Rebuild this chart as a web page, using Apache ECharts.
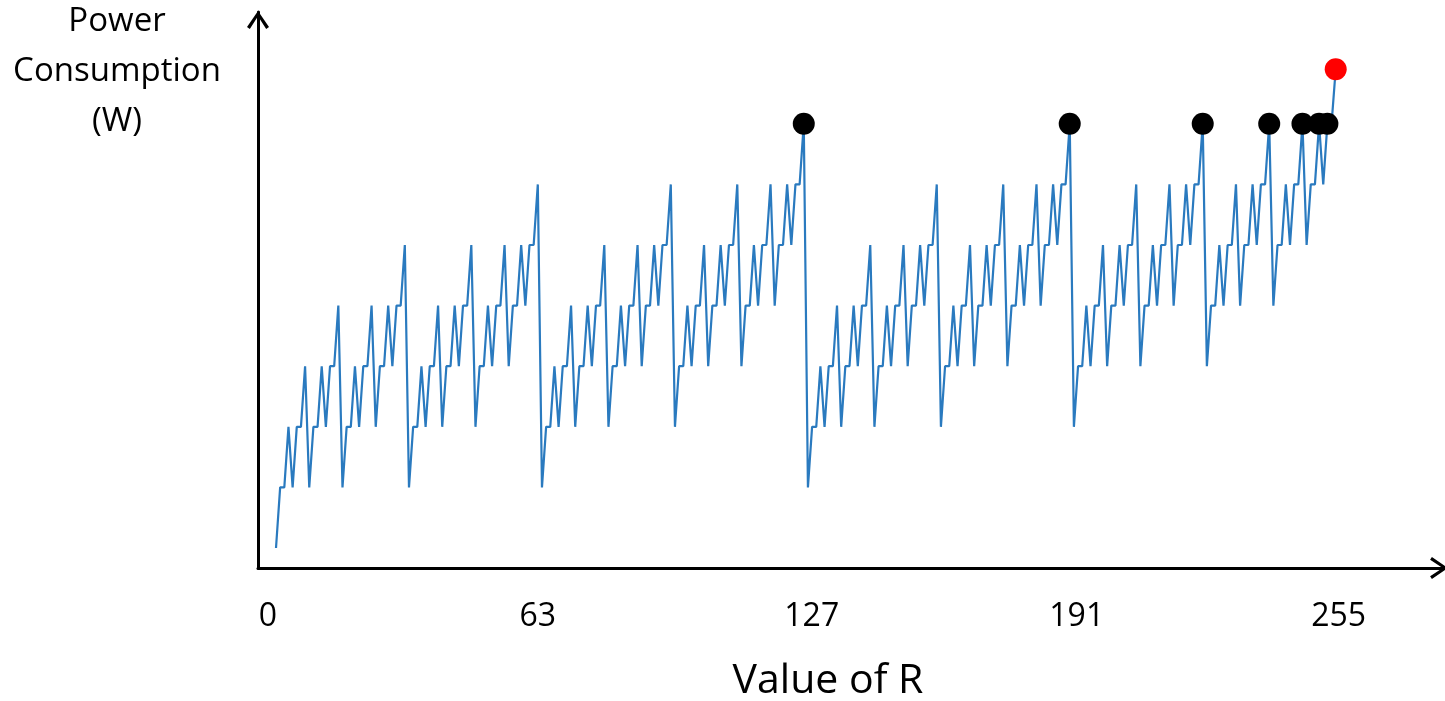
<!DOCTYPE html>
<html>
<head>
<meta charset="utf-8">
<title>Power Consumption vs Value of R</title>
<script src="https://cdn.jsdelivr.net/npm/echarts@6/dist/echarts.min.js"></script>
<style>
  html, body { margin: 0; padding: 0; background: #ffffff; }
  #chart { width: 1445px; height: 701px; }
</style>
</head>
<body>
<div id="chart"></div>
<script>
// Power level for each value of R (0..255), in relative steps
const power = [
  0,1,1,2,1,2,2,3,1,2,2,3,2,3,3,4,
  1,2,2,3,2,3,3,4,2,3,3,4,3,4,4,5,
  1,2,2,3,2,3,3,4,2,3,3,4,3,4,4,5,
  2,3,3,4,3,4,4,5,3,4,4,5,4,5,5,6,
  1,2,2,3,2,3,3,4,2,3,3,4,3,4,4,5,
  2,3,3,4,3,4,4,5,3,4,4,5,4,5,5,6,
  2,3,3,4,3,4,4,5,3,4,4,5,4,5,5,6,
  3,4,4,5,4,5,5,6,4,5,5,6,5,6,6,7,
  1,2,2,3,2,3,3,4,2,3,3,4,3,4,4,5,
  2,3,3,4,3,4,4,5,3,4,4,5,4,5,5,6,
  2,3,3,4,3,4,4,5,3,4,4,5,4,5,5,6,
  3,4,4,5,4,5,5,6,4,5,5,6,5,6,6,7,
  2,3,3,4,3,4,4,5,3,4,4,5,4,5,5,6,
  3,4,4,5,4,5,5,6,4,5,5,6,5,6,6,7,
  3,4,4,5,4,5,5,6,4,5,5,6,5,6,6,7,
  4,5,5,6,5,6,6,7,5,6,6,7,6,7,7,7.9
];

// Values of R marked as local peaks, and the overall maximum
const peakR = [127, 191, 223, 239, 247, 251, 253];
const maxR = [255];

// Tick labels on the R axis
const tickValues = [0, 63, 127, 191, 255];
const tickLabels = ['0', '63', '127', '191', '255'];

const lineData = power.map((v, r) => [r, v]);
const peakData = peakR.map(r => [r, power[r]]);
const maxData = maxR.map(r => [r, power[r]]);

// small horizontal nudges for the tick text (rich style keys)
const nudge = { 0: 'l8', 127: 'r8', 191: 'r7', 255: 'r3' };

const FONT = '"Open Sans", "Liberation Sans", sans-serif';
const TICK_SIZE = 32;
const chevron = 'path://M11,0 L22,16 L19.2,17.8 L11,5.2 L2.8,17.8 L0,16 Z';

function tickRich(padLeft, padRight) {
  return { fontFamily: FONT, fontSize: TICK_SIZE, color: '#000', padding: [0, padRight, 0, padLeft] };
}

const chart = echarts.init(document.getElementById('chart'), null, { renderer: 'canvas' });

chart.setOption({
  animation: false,
  backgroundColor: '#ffffff',
  grid: { left: 258, top: 12, right: 0, bottom: 133, containLabel: false },
  xAxis: {
    type: 'value',
    min: -4.33,
    max: 281.3,
    splitLine: { show: false },
    axisTick: { show: false },
    axisLine: {
      show: true,
      onZero: false,
      symbol: ['none', chevron],
      symbolSize: [22, 18],
      symbolOffset: [0, -6],
      lineStyle: { color: '#000000', width: 3 }
    },
    axisLabel: {
      show: true,
      customValues: tickValues,
      margin: 33,
      fontFamily: FONT,
      fontSize: TICK_SIZE,
      color: '#000000',
      formatter: function (v) {
        const i = tickValues.indexOf(v);
        const txt = i >= 0 ? tickLabels[i] : '';
        const k = nudge[v];
        return k ? '{' + k + '|' + txt + '}' : txt;
      },
      rich: {
        l8: tickRich(0, 16),
        r8: tickRich(16, 0),
        r7: tickRich(14, 0),
        r3: tickRich(6, 0)
      }
    }
  },
  yAxis: {
    type: 'value',
    min: -0.33,
    max: 8.845,
    splitLine: { show: false },
    axisTick: { show: false },
    axisLabel: { show: false },
    axisLine: {
      show: true,
      onZero: false,
      symbol: ['none', chevron],
      symbolSize: [22, 18],
      symbolOffset: [0, -8],
      lineStyle: { color: '#000000', width: 3 }
    }
  },
  graphic: [
    {
      type: 'text',
      x: 828,
      y: 681,
      style: {
        text: 'Value of R',
        fontFamily: FONT,
        fontSize: 41,
        fill: '#000000',
        align: 'center',
        verticalAlign: 'middle'
      }
    },
    {
      type: 'text',
      x: 117,
      y: 72,
      style: {
        text: 'Power\nConsumption\n(W)',
        fontFamily: FONT,
        fontSize: 33,
        lineHeight: 50,
        fill: '#000000',
        align: 'center',
        verticalAlign: 'middle'
      }
    }
  ],
  series: [
    {
      type: 'line',
      data: lineData,
      showSymbol: false,
      symbol: 'none',
      lineStyle: { color: '#2a7abf', width: 2.2 },
      z: 2
    },
    {
      type: 'scatter',
      data: peakData,
      symbol: 'circle',
      symbolSize: 22,
      itemStyle: { color: '#000000', opacity: 1 },
      z: 3
    },
    {
      type: 'scatter',
      data: maxData,
      symbol: 'circle',
      symbolSize: 22,
      itemStyle: { color: '#ff0000', opacity: 1 },
      z: 3
    }
  ]
});
</script>
</body>
</html>
